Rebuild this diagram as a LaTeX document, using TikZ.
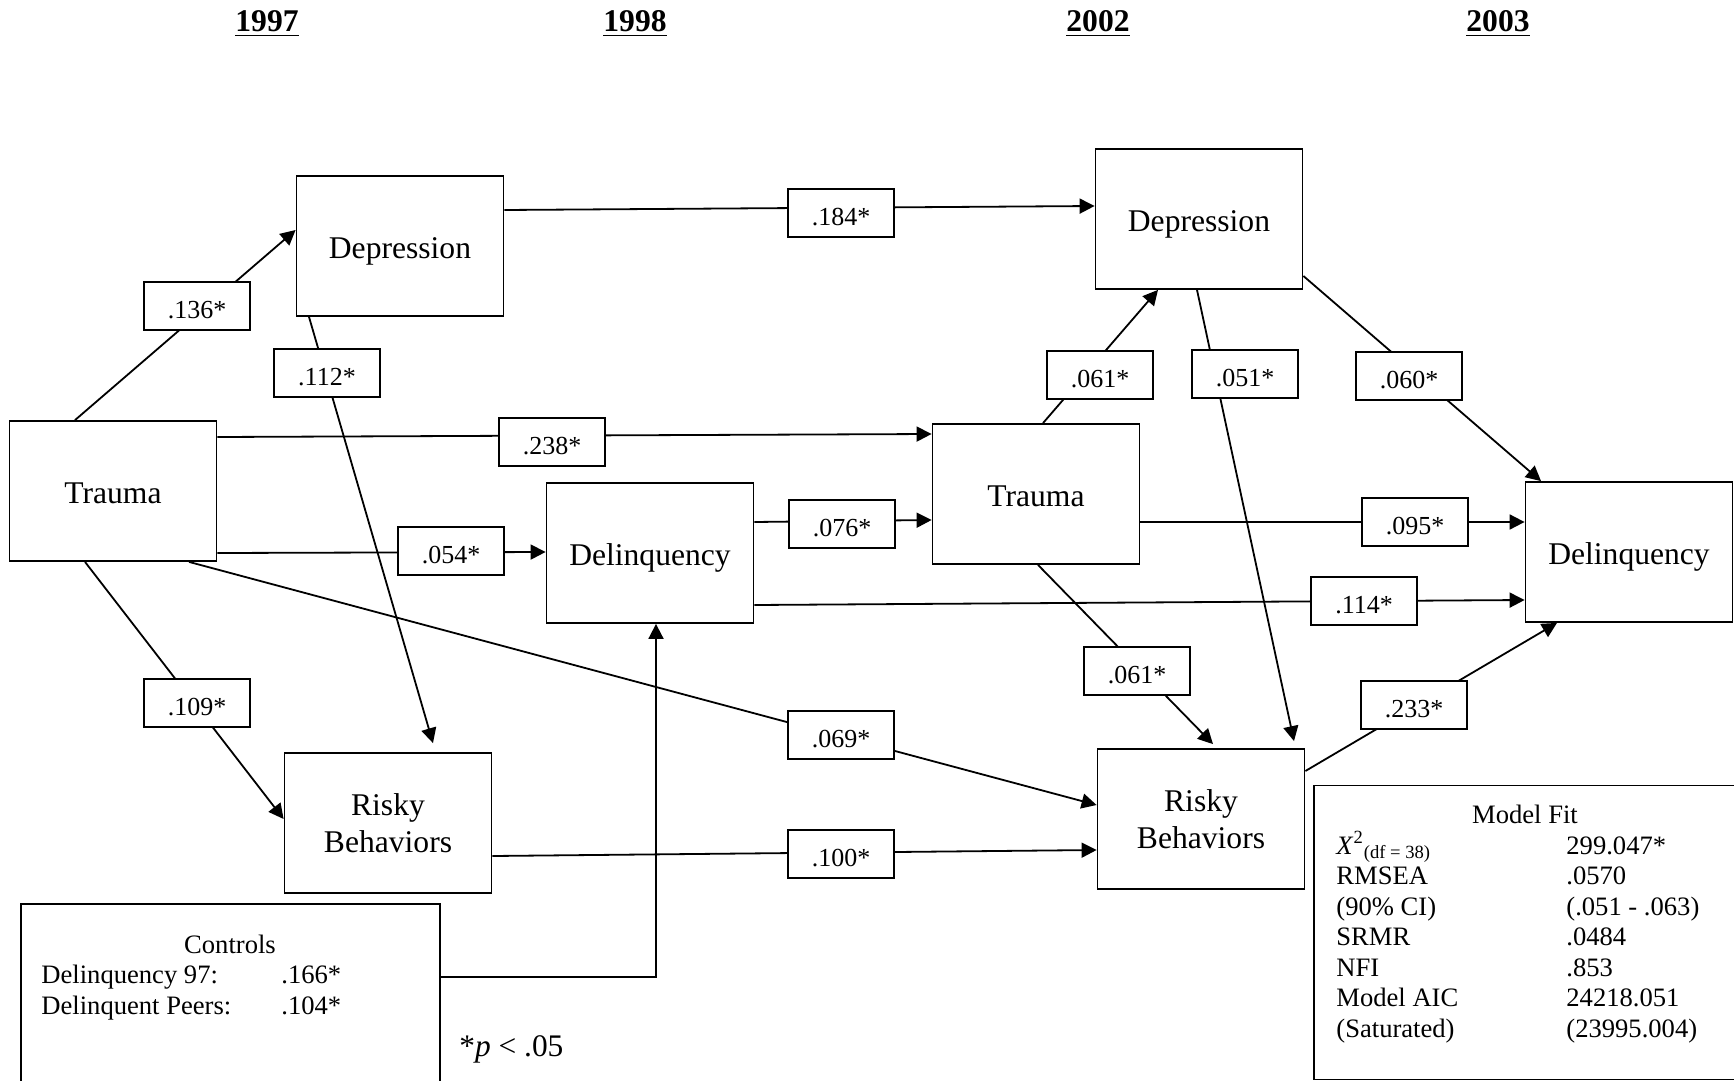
\documentclass[tikz,border=0pt]{standalone}
\usepackage{fontspec}
\setmainfont{Liberation Serif}
\usetikzlibrary{arrows.meta, calc}
\tikzset{
    varbase/.style={rectangle, draw, line width=0.9pt, minimum width=103.5pt, minimum height=70pt, inner sep=2pt, align=center, font=\fontsize{15.8}{18.3}\selectfont},
    var/.style={varbase, text height=12.6pt, text depth=0pt},
    vartwo/.style={varbase, yshift=-0.5pt},
    coef/.style={rectangle, draw, line width=0.9pt, fill=white, minimum width=53pt, minimum height=24pt, inner sep=0pt, text height=12.4pt, text depth=0pt, font=\fontsize{13}{15}\selectfont},
    panel/.style={rectangle, draw, line width=0.9pt, inner sep=0pt},
    arrow/.style={line width=0.9pt, -{Triangle[length=7.5pt, width=7.5pt]}},
    yearlabel/.style={anchor=base, inner sep=0pt, font=\fontsize{15.8}{18}\selectfont\bfseries},
    note/.style={anchor=base west, inner sep=0pt, font=\fontsize{13.3}{15.3}\selectfont}
}

\begin{document}
\begin{tikzpicture}[x=0.5pt, y=-0.5pt]
    \useasboundingbox (0,0) rectangle (1734,1081);
    \clip (0,0) rectangle (1734,1081);

    % waves
    \node (y97) [yearlabel] at (267,32) {\underline{1997}};
    \node (y98) [yearlabel] at (635,32) {\underline{1998}};
    \node (y02) [yearlabel] at (1098,32) {\underline{2002}};
    \node (y03) [yearlabel] at (1498,32) {\underline{2003}};

    % variables
    \node (dep97) [var] at (400,246) {Depression};
    \node (tra97) [var] at (113,491) {Trauma};
    \node (risk97) [vartwo] at (388,822) {Risky\\Behaviors};
    \node (del98) [var] at (650,553) {Delinquency};
    \node (dep02) [var] at (1199,219) {Depression};
    \node (tra02) [var] at (1036,494) {Trauma};
    \node (risk02) [vartwo] at (1201,818) {Risky\\Behaviors};
    \node (del03) [var] at (1629,552) {Delinquency};

    % side panels
    \node (ctrl) [panel, minimum width=209.5pt, minimum height=93pt] at (230.5,997) {};
    \node (fit) [panel, minimum width=216pt, minimum height=147pt] at (1530,932.5) {};

    % paths
    \draw [arrow] ($(tra97.north)+(-38,0)$) -- ($(dep97.west)+(0,-16)$);
    \draw [arrow] ($(dep97.south)+(-91,0)$) -- ($(risk97.north)+(45,-9)$);
    \draw [arrow] ($(tra97.east)+(0,62)$) -- ($(del98.west)+(0,-1)$);
    \draw [arrow] ($(tra97.south)+(-28,0)$) -- ($(risk97.west)+(0,-4)$);
    \draw [arrow] ($(dep97.east)+(0,-36)$) -- ($(dep02.west)+(0,-13)$);
    \draw [arrow] ($(tra97.east)+(0,-54)$) -- ($(tra02.west)+(0,-60)$);
    \draw [arrow] ($(del98.east)+(0,-31)$) -- ($(tra02.west)+(0,26)$);
    \draw [arrow] ($(tra97.south)+(76,0)$) -- ($(risk02.west)+(0,-14)$);
    \draw [arrow] ($(risk97.east)+(0,33)$) -- ($(risk02.west)+(0,31)$);
    \draw [arrow] ($(ctrl.east)+(0,-20)$) -| ($(del98.south)+(6,0)$);
    \draw [arrow] ($(tra02.north)+(7,0)$) -- ($(dep02.south)+(-41,0)$);
    \draw [arrow] ($(dep02.south)+(-2,0)$) -- ($(risk02.north)+(93,-7)$);
    \draw [arrow] ($(tra02.south)+(2,0)$) -- ($(risk02.north)+(12,-4)$);
    \draw [arrow] ($(dep02.east)+(0,57)$) -- ($(del03.north)+(-88,0)$);
    \draw [arrow] ($(tra02.east)+(0,28)$) -- ($(del03.west)+(0,-30)$);
    \draw [arrow] ($(del98.east)+(0,52)$) -- ($(del03.west)+(0,48)$);
    \draw [arrow] ($(risk02.east)+(0,-48)$) -- ($(del03.south)+(-72,0)$);

    % coefficients
    \node (c136) [coef] at (197,306) {.136*};
    \node (c112) [coef] at (327,373) {.112*};
    \node (c184) [coef] at (841,213) {.184*};
    \node (c238) [coef] at (552,442) {.238*};
    \node (c054) [coef] at (451,551) {.054*};
    \node (c076) [coef] at (842,524) {.076*};
    \node (c109) [coef] at (197,703) {.109*};
    \node (c069) [coef] at (841,735) {.069*};
    \node (c100) [coef] at (841,854) {.100*};
    \node (c061a) [coef] at (1100,375) {.061*};
    \node (c051) [coef] at (1245,374) {.051*};
    \node (c060) [coef] at (1409,376) {.060*};
    \node (c095) [coef] at (1415,522) {.095*};
    \node (c114) [coef] at (1364,601) {.114*};
    \node (c061b) [coef] at (1137,671) {.061*};
    \node (c233) [coef] at (1414,705) {.233*};

    % controls
    \node (ctrlhead) [note, anchor=base] at (230,953) {Controls};
    \node (ctrla) [note] at (41,983) {Delinquency 97:};
    \node (ctrlav) [note] at (281,983) {.166*};
    \node (ctrlb) [note] at (41,1014) {Delinquent Peers:};
    \node (ctrlbv) [note] at (281,1014) {.104*};
    \node (sig) [note, font=\fontsize{15.7}{18}\selectfont] at (459,1056) {*\textit{p} < .05};

    % model fit
    \node (fithead) [note, anchor=base] at (1525,823) {Model Fit};
    \foreach \row/\name/\val in {0/{\textit{X}\textsuperscript{2}\textsubscript{(df = 38)}}/299.047*,
        1/RMSEA/.0570, 2/(90\% CI)/(.051 - .063), 3/SRMR/.0484, 4/NFI/.853,
        5/Model AIC/24218.051, 6/(Saturated)/(23995.004)}{
        \node (fitname\row) [note] at (1336,{854+30.5*\row}) {\name};
        \node (fitval\row) [note] at (1566,{854+30.5*\row}) {\val};
    }
\end{tikzpicture}
\end{document}
